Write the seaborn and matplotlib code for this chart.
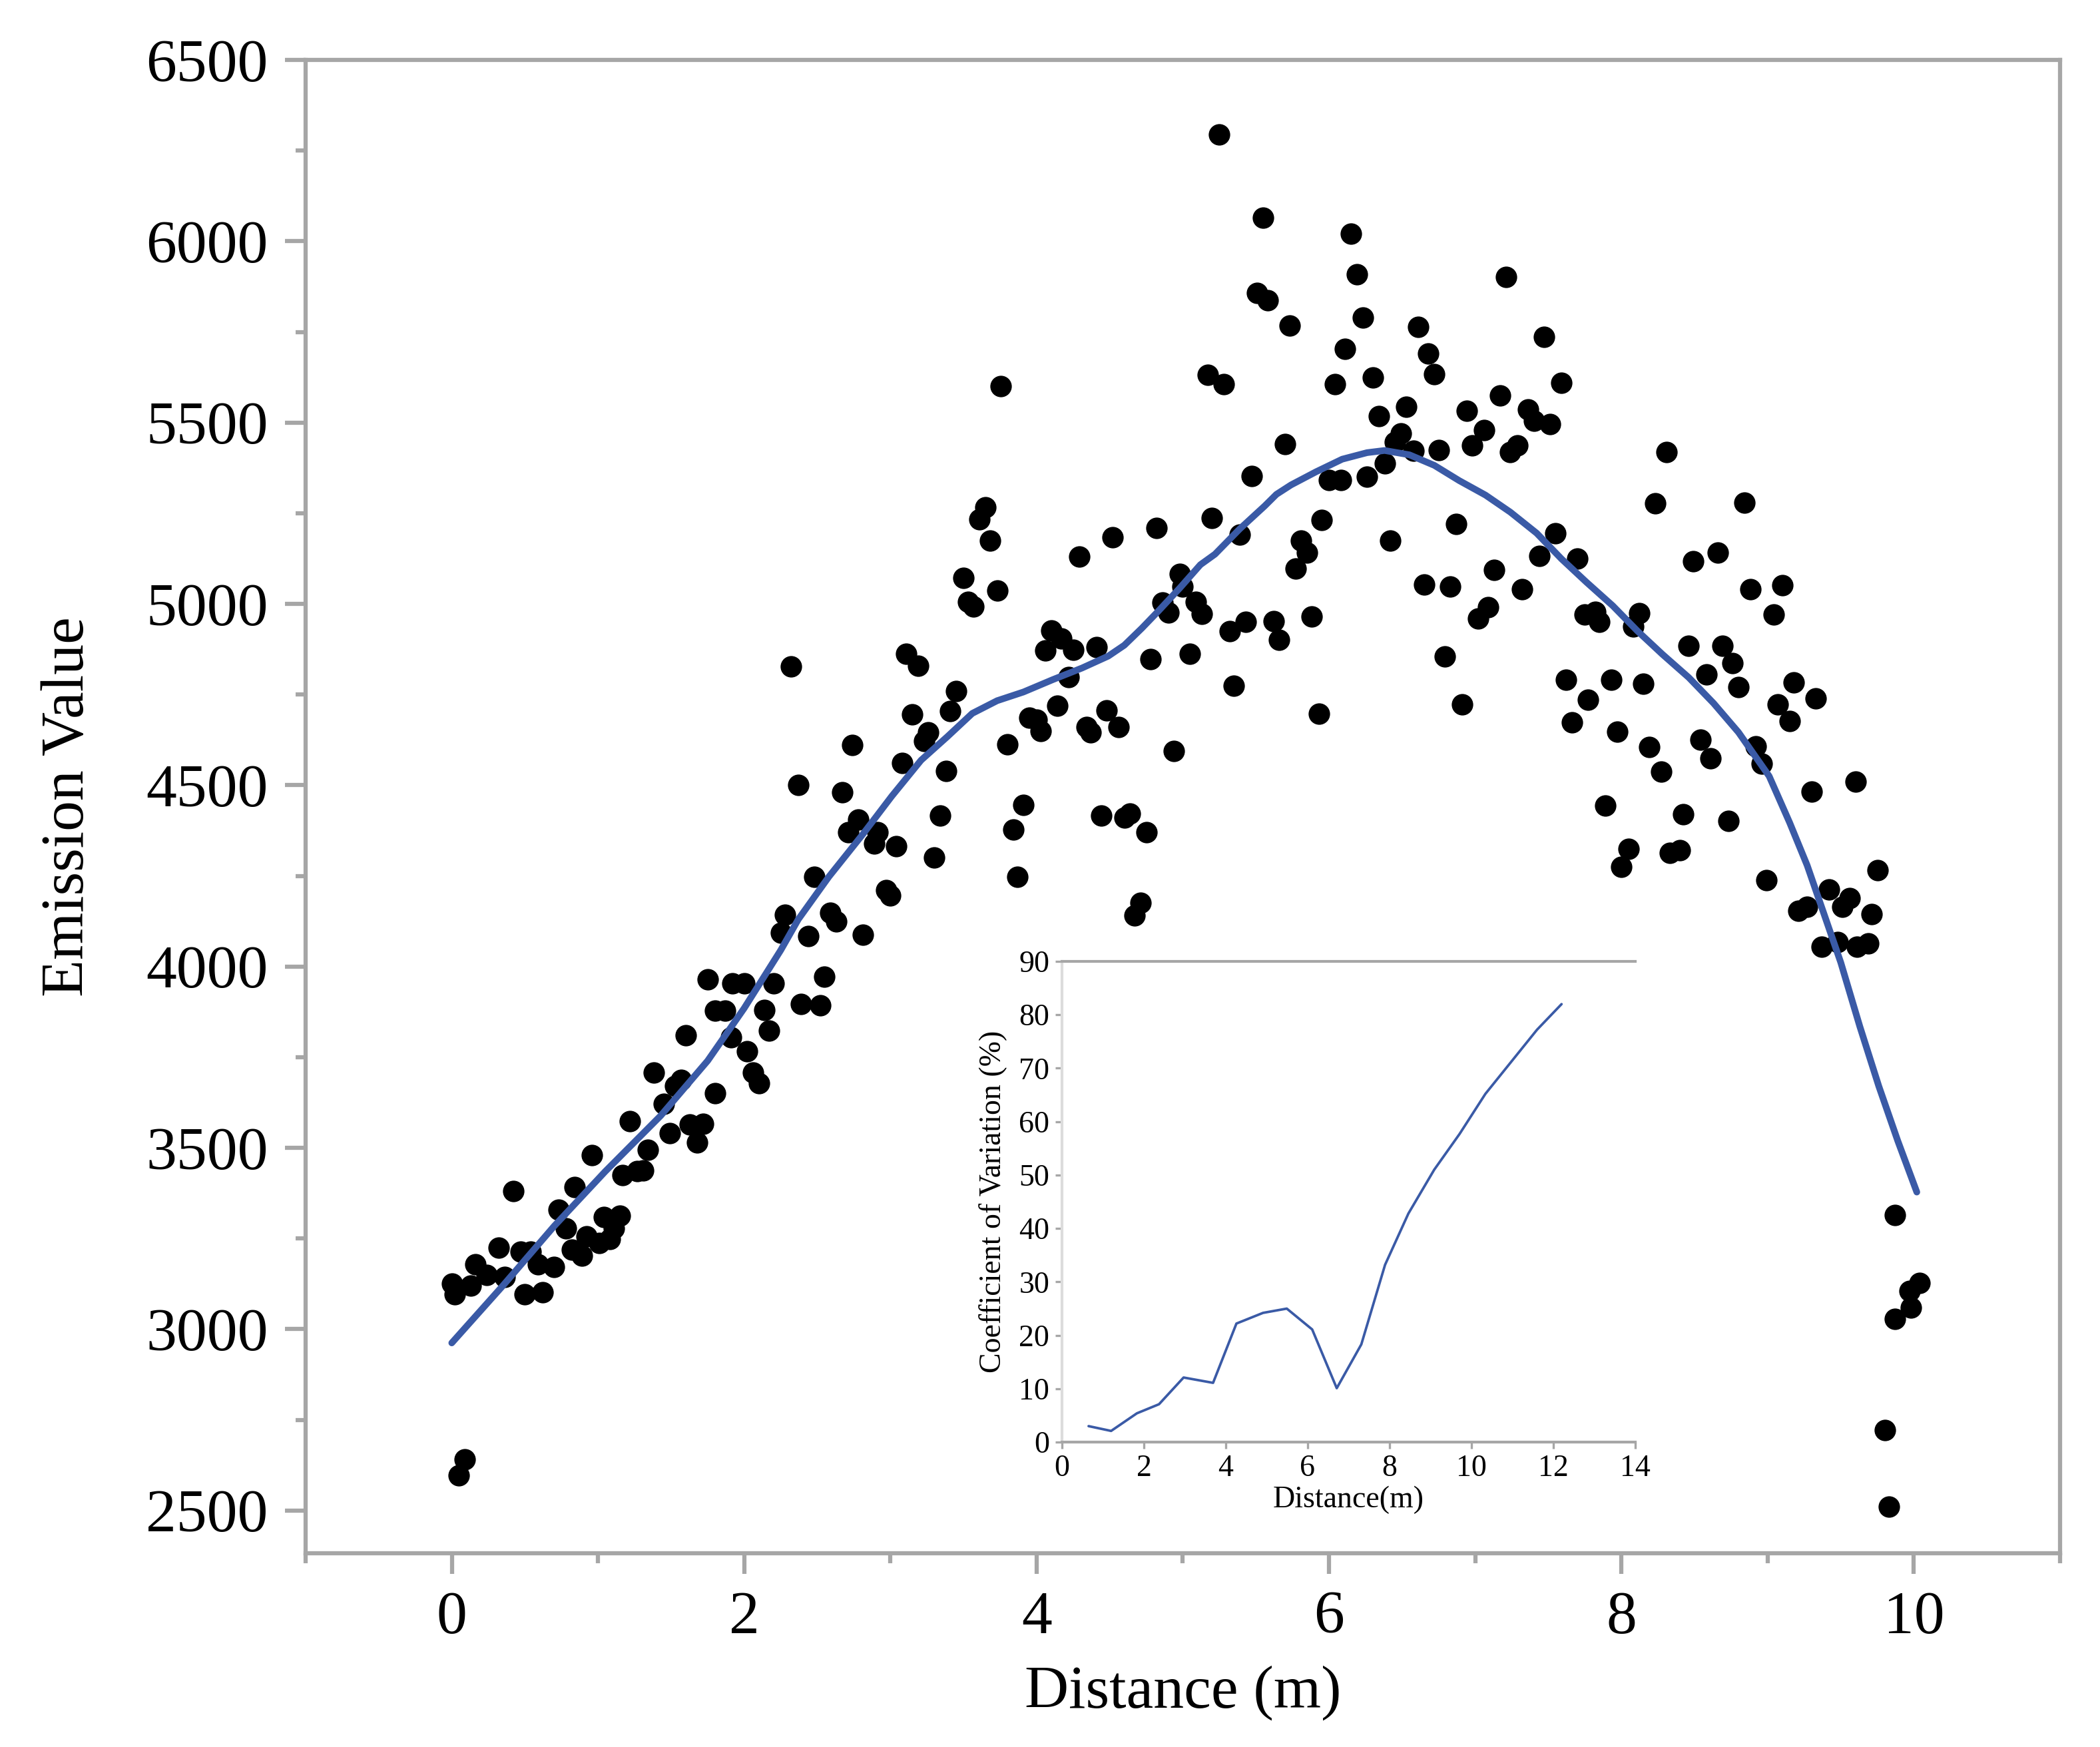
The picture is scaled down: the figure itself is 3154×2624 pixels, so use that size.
import numpy as np
import pandas as pd
import matplotlib.pyplot as plt
import seaborn as sns
from matplotlib.ticker import MultipleLocator

# scatter data: distance (m), emission value
distance = [
    0.00, 0.02, 0.13, 0.05, 0.09, 0.16, 0.24, 0.32, 0.36, 0.42,
    0.47, 0.54, 0.50, 0.59, 0.62, 0.70, 0.73, 0.78, 0.82, 0.84,
    0.89, 0.92, 0.96, 1.01, 1.04, 1.08, 1.11, 1.15, 1.17, 1.22,
    1.27, 1.31, 1.34, 1.38, 1.45, 1.49, 1.53, 1.57, 1.60, 1.63,
    1.68, 1.72, 1.75, 1.80, 1.80, 1.87, 1.91, 1.92, 2.00, 2.02,
    2.06, 2.10, 2.14, 2.17, 2.20, 2.25, 2.28, 2.39, 2.44, 2.48,
    2.52, 2.55, 2.59, 2.63, 2.81, 2.97, 3.00, 3.30, 3.87,
    2.32, 2.37, 2.67, 2.71, 2.74, 2.78, 2.89, 2.91, 3.04, 3.08,
    3.11, 3.15, 3.19, 3.23, 3.26, 3.34, 3.38, 3.41, 3.45, 3.50,
    3.53, 3.57, 3.61, 3.65, 3.68, 3.73, 3.755, 3.80, 3.84, 3.91,
    3.95, 4.00, 4.03, 4.06, 4.10, 4.14, 4.17, 4.22, 4.25, 4.29,
    4.34, 4.37, 4.41, 4.44, 4.48, 4.52, 4.56, 4.60, 4.64, 4.67,
    4.71, 4.75, 4.78, 4.82, 4.86, 4.90, 4.94, 4.98, 5.00, 5.05,
    5.09, 5.13,
    5.17, 5.20, 5.25, 5.28, 5.32, 5.35, 5.39, 5.43, 5.47, 5.51,
    5.55, 5.58, 5.62, 5.66, 5.70, 5.73, 5.77, 5.81, 5.85, 5.88,
    5.93, 5.95, 6.00, 6.04, 6.08, 6.11, 6.15, 6.19, 6.23, 6.26,
    6.30, 6.34, 6.38, 6.42, 6.45, 6.49, 6.53, 6.58, 6.61, 6.65,
    6.68, 6.72, 6.75, 6.79, 6.83, 6.87, 6.91, 6.94, 6.98, 7.02,
    7.06, 7.09, 7.13, 7.17, 7.21, 7.24, 7.29, 7.32, 7.36, 7.40,
    7.44, 7.47, 7.51, 7.55, 7.59, 7.62, 7.66, 7.70, 7.75, 7.77,
    7.82, 7.85, 7.89, 7.93, 7.97, 8.00, 8.05, 8.08, 8.12, 8.15,
    8.19, 8.23, 8.27, 8.31, 8.33, 8.40, 8.42, 8.46, 8.49, 8.54,
    8.58, 8.61, 8.66, 8.69, 8.73, 8.76, 8.80, 8.84, 8.88, 8.92,
    8.96, 8.99, 9.04, 9.07, 9.10, 9.15, 9.18, 9.21, 9.27, 9.30,
    9.33, 9.37, 9.42, 9.48, 9.51, 9.56, 9.60, 9.61, 9.69, 9.71,
    9.75, 9.80, 9.83, 9.87, 9.87, 9.98, 9.97, 10.04,
]
emission = [
    3126, 3097, 3120, 2596, 2640, 3178, 3150, 3225, 3143, 3380,
    3214, 3214, 3097, 3178, 3102, 3172, 3330, 3278, 3220, 3391,
    3202, 3255, 3479, 3237, 3310, 3249, 3278, 3313, 3424, 3573,
    3436, 3438, 3495, 3708, 3622, 3541, 3670, 3688, 3811, 3565,
    3515, 3567, 3965, 3650, 3878, 3878, 3805, 3954, 3954, 3767,
    3708, 3679, 3881, 3823, 3954, 4093, 4142, 3896, 4083, 4247,
    3893, 3972, 4148, 4125, 4087, 4210, 4195, 4300, 4248,
    4827, 4501, 4481, 4371, 4610, 4406, 4339, 4371, 4332, 4561,
    4862, 4695, 4830, 4622, 4646, 4417, 4540, 4704, 4760, 5071,
    5005, 4992, 5234, 5266, 5175, 5036, 5600, 4613, 4378, 4446,
    4687, 4681, 4649, 4872, 4927, 4720, 4904, 4798, 4874, 5130,
    4661, 4646, 4881, 4417, 4707, 5183, 4661, 4410, 4421, 4140,
    4176, 4371, 4847, 5210, 5003, 4977, 4595, 5083, 5048, 4862,
    5006, 4973,
    5631, 5237, 6295, 5605, 4924, 4774, 5191, 4950, 5353, 5857,
    6065, 5838, 4952, 4900, 5441, 5767, 5098, 5175, 5142, 4966,
    4698, 5232, 5341, 5605, 5341, 5704, 6020, 5909, 5790, 5350,
    5624, 5518, 5388, 5175, 5447, 5470, 5544, 5423, 5764, 5054,
    5691, 5634, 5424, 4855, 5047, 5221, 4723, 5533, 5437, 4959,
    5479, 4990, 5093, 5575, 5901, 5418, 5437, 5040, 5537, 5505,
    5133, 5736, 5496, 5195, 5609, 4790, 4673, 5124, 4971, 4736,
    4978, 4951, 4444, 4791, 4648, 4274, 4325, 4937, 4975, 4780,
    4606, 5278, 4538, 5418, 4314, 4321, 4420, 4884, 5117, 4625,
    4806, 4575, 5142, 4884, 4402, 4837, 4771, 5279, 5040, 4608,
    4560, 4239, 4970, 4722, 5052, 4677, 4784, 4153, 4165, 4483,
    4740, 4055, 4213, 4068, 4164, 4189, 4509, 4055, 4063, 4145,
    4266, 2721, 2511, 3314, 3028, 3060, 3106, 3127,
]

# fitted curve
fit_x = [0.0, 0.35, 0.70, 1.05, 1.43, 1.75, 2.0, 2.25, 2.37, 2.58,
         2.81, 3.01, 3.21, 3.39, 3.56, 3.73, 3.91, 4.11, 4.31, 4.49,
         4.60, 4.72, 4.83, 4.98, 5.12, 5.22, 5.39, 5.56, 5.64, 5.74,
         5.91, 6.09, 6.26, 6.38, 6.55, 6.72, 6.89, 7.07, 7.24, 7.42,
         7.59, 7.76, 7.94, 8.11, 8.28, 8.46, 8.63, 8.80, 9.01, 9.15,
         9.27, 9.38, 9.50, 9.63, 9.76, 9.89, 10.02]
fit_y = [2962, 3120, 3284, 3435, 3589, 3740, 3885, 4045, 4130, 4248,
         4364, 4470, 4569, 4634, 4698, 4733, 4757, 4791, 4823, 4856,
         4886, 4933, 4979, 5044, 5108, 5137, 5207, 5270, 5302, 5328,
         5364, 5399, 5417, 5423, 5411, 5382, 5340, 5300, 5253, 5195,
         5124, 5060, 4995, 4925, 4861, 4797, 4726, 4646, 4525, 4397,
         4279, 4151, 4011, 3835, 3670, 3519, 3378]

# inset: coefficient of variation
cv_dist = [0.65, 1.2, 1.83, 2.37, 2.97, 3.69, 4.26, 4.91, 5.49, 6.11,
           6.71, 7.31, 7.89, 8.46, 9.09, 9.71, 10.34, 10.97, 11.6, 12.2]
cv_value = [3.0, 2.1, 5.4, 7.1, 12.1, 11.1, 22.2, 24.2, 25.0, 21.1,
            10.1, 18.3, 33.2, 42.8, 51.0, 57.7, 65.2, 71.2, 77.2, 82.0]

sns.set_theme(style="white")
plt.rcParams['font.family'] = ['Liberation Serif', 'DejaVu Serif']
plt.rcParams['axes.labelcolor'] = 'black'
plt.rcParams['text.color'] = 'black'

grey = '#a6a6a6'
blue = '#3a5aa6'

pts = pd.DataFrame({'Distance': distance, 'Emission': emission})
fit = pd.DataFrame({'Distance': fit_x, 'Emission': fit_y})
cv = pd.DataFrame({'Distance': cv_dist, 'CV': cv_value})

fig = plt.figure(figsize=(3154 / 300, 2624 / 300), dpi=300)
ax = fig.add_axes([0.1455, 0.1109, 0.8355, 0.8548])

sns.scatterplot(data=pts, x='Distance', y='Emission', ax=ax, color='black',
                s=60, linewidth=0, zorder=2)
sns.lineplot(data=fit, x='Distance', y='Emission', ax=ax, color=blue,
             linewidth=2.4, estimator=None, sort=False, zorder=3)

ax.set_xlim(-1, 11)
ax.set_ylim(2382, 6500)
ax.xaxis.set_major_locator(MultipleLocator(2))
ax.xaxis.set_minor_locator(MultipleLocator(1))
ax.yaxis.set_major_locator(MultipleLocator(500))
ax.yaxis.set_minor_locator(MultipleLocator(250))
ax.tick_params(which='both', direction='out', color=grey, width=1.5,
               bottom=True, left=True, top=False, right=False)
ax.tick_params(which='major', length=7.5, pad=6, labelsize=22, labelcolor='black')
ax.tick_params(which='minor', length=3.5)
for sp in ax.spines.values():
    sp.set_color(grey)
    sp.set_linewidth(1.5)
ax.set_xlabel('Distance (m)', fontsize=22, labelpad=7, color='black')
ax.set_ylabel('Emission Value', fontsize=22, labelpad=18, color='black')

# inset
ins = fig.add_axes([0.5057, 0.1745, 0.273, 0.2752])
ins.set_facecolor('white')
sns.lineplot(data=cv, x='Distance', y='CV', ax=ins, color=blue,
             linewidth=0.9, estimator=None, sort=False)
ins.set_xlim(0, 14)
ins.set_ylim(0, 90)
ins.xaxis.set_major_locator(MultipleLocator(2))
ins.yaxis.set_major_locator(MultipleLocator(10))
ins.tick_params(which='major', direction='out', length=2.5, width=0.8,
                color=grey, pad=2, labelsize=11, labelcolor='black',
                bottom=True, left=True)
ins.spines['right'].set_visible(False)
ins.spines['top'].set_color(grey)
ins.spines['bottom'].set_color(grey)
ins.spines['left'].set_color('#dcdcdc')
for sp in ins.spines.values():
    sp.set_linewidth(1.0)
ins.set_xlabel('Distance(m)', fontsize=11, labelpad=1, color='black')
ins.set_ylabel('Coefficient of Variation (%)', fontsize=11, labelpad=4, color='black')

fig.savefig('out.png', dpi=300)
